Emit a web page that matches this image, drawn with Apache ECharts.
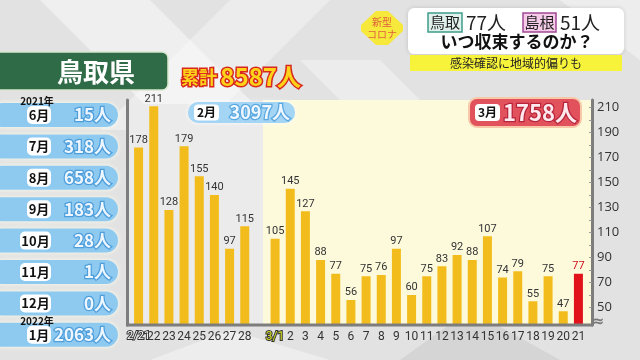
<!DOCTYPE html>
<html><head><meta charset="utf-8">
<script src="https://cdn.jsdelivr.net/npm/echarts@6/dist/echarts.min.js"></script>
<style>html,body{margin:0;padding:0;background:#e4e4e4}#c{width:640px;height:360px}</style>
</head><body><div id="c"></div>
<script>
// ---- data ----
const categories = ['2/21','22','23','24','25','26','27','28','',
  '3/1','2','3','4','5','6','7','8','9','10','11','12','13','14','15','16','17','18','19','20','21'];
const values = [178,211,128,179,155,140,97,115,null,
  105,145,127,88,77,56,75,76,97,60,75,83,92,88,107,74,79,55,75,47,77];
const yTickLabels = [50,70,90,110,130,150,170,190,210];
const yMinorTicks = [50,60,70,80,90,100,110,120,130,140,150,160,170,180,190,200,210];
const monthNames = ['6月','7月','8月','9月','10月','11月','12月','1月'];
const monthCounts = [15,318,658,183,28,1,0,2063];
const febTotal = 3097;
const marTotal = 1758;
const cumulative = 8587;
const todayTottori = 77;
const todayShimane = 51;

const JP = '"Noto Sans CJK JP", "Noto Sans", sans-serif';
const NARROW = '"Liberation Sans Narrow", "Roboto", sans-serif';

const chart = echarts.init(document.getElementById('c'), null, {renderer: 'canvas'});

const g = [];
// background
g.push({type:'rect', z:-10, shape:{x:0,y:0,width:640,height:360}, style:{fill:'#e2e2e2'}});
g.push({type:'polygon', z:-9, shape:{points:[[40,0],[150,0],[300,150],[190,150]]}, style:{fill:'rgba(255,255,255,0.45)'}});
g.push({type:'polygon', z:-9, shape:{points:[[230,0],[330,0],[200,130],[100,130]]}, style:{fill:'rgba(255,255,255,0.35)'}});
g.push({type:'polygon', z:-9, shape:{points:[[300,60],[380,60],[470,150],[390,150]]}, style:{fill:'rgba(255,255,255,0.35)'}});
g.push({type:'polygon', z:-9, shape:{points:[[560,0],[640,0],[640,60]]}, style:{fill:'rgba(255,255,255,0.4)'}});
g.push({type:'polygon', z:-9, shape:{points:[[150,360],[230,330],[330,360]]}, style:{fill:'rgba(255,255,255,0.4)'}});
g.push({type:'polygon', z:-9, shape:{points:[[400,360],[470,310],[560,360]]}, style:{fill:'rgba(200,200,200,0.5)'}});

// chart panels
g.push({type:'rect', z:-8, shape:{x:127,y:104,width:136,height:221}, style:{fill:'#ebebeb'}});
g.push({type:'rect', z:-8, shape:{x:263,y:100,width:329,height:225}, style:{fill:'#fdfadc'}});
// baseline
g.push({type:'line', z:5, shape:{x1:126,y1:325,x2:593,y2:325}, style:{stroke:'#7d7d7d', lineWidth:3}});
g.push({type:'text', z:6, style:{x:598, y:322, text:'≈', fill:'#777', font:'bold 15px "DejaVu Sans"', textAlign:'center', textVerticalAlign:'middle'}});

// green header
g.push({type:'rect', z:1, shape:{x:-10,y:52,width:178,height:38,r:6}, style:{fill:'#2f6b47', stroke:'#d6e6cc', lineWidth:1.5}});
g.push({type:'text', z:2, style:{x:96, y:72, text:'鳥取県', fill:'#fff', font:'bold 26px ' + JP, textAlign:'center', textVerticalAlign:'middle'}});

// cumulative
g.push({type:'text', z:2, style:{x:181, y:77, text:'{a|累計} {b|' + cumulative + '人}', textVerticalAlign:'middle',
  rich:{a:{fontSize:18, fontWeight:'bold', fontFamily:JP, fill:'#ffd21a', stroke:'#d8281e', lineWidth:3},
        b:{fontSize:24, fontWeight:'bold', fontFamily:JP, fill:'#ffd21a', stroke:'#d8281e', lineWidth:3}}}});

// month rows
g.push({type:'text', z:3, style:{x:37, y:101, text:'2021年', fill:'#111', font:'bold 10px ' + JP, textAlign:'center', textVerticalAlign:'middle'}});
monthNames.forEach((m, i) => {
  const y = 115 + i * 31.4;
  g.push({type:'rect', z:1, shape:{x:-10, y:y-12, width:128, height:24, r:12}, style:{fill:'#8ecaf0', shadowBlur:5, shadowColor:'rgba(255,255,240,0.9)'}});
  const w = m.length > 2 ? 31 : 24;
  g.push({type:'rect', z:2, shape:{x:51-w, y:y-9, width:w, height:18, r:5}, style:{fill:'#fff'}});
  g.push({type:'text', z:3, style:{x:51-w/2, y:y, text:m, fill:'#111', font:'bold 13px ' + JP, textAlign:'center', textVerticalAlign:'middle'}});
  g.push({type:'text', z:3, style:{x:111, y:y, text:monthCounts[i] + '人', fill:'#eef7ff', stroke:'#4e9edb', lineWidth:2.5, font:'bold 17px ' + JP, textAlign:'right', textVerticalAlign:'middle'}});
});
g.push({type:'text', z:3, style:{x:37, y:321, text:'2022年', fill:'#111', font:'bold 10px ' + JP, textAlign:'center', textVerticalAlign:'middle'}});

// Feb total box
g.push({type:'rect', z:2, shape:{x:188,y:102,width:107,height:21,r:10}, style:{fill:'#a5d5f4', shadowBlur:4, shadowColor:'rgba(255,255,255,0.9)'}});
g.push({type:'rect', z:3, shape:{x:194,y:104.5,width:25,height:16,r:4}, style:{fill:'#fff'}});
g.push({type:'text', z:4, style:{x:206.5, y:112.5, text:'2月', fill:'#111', font:'bold 12px ' + JP, textAlign:'center', textVerticalAlign:'middle'}});
g.push({type:'text', z:4, style:{x:290, y:112.5, text:febTotal + '人', fill:'#eef7ff', stroke:'#5aa8e0', lineWidth:2.5, font:'bold 18px ' + JP, textAlign:'right', textVerticalAlign:'middle'}});

// Mar total box
g.push({type:'rect', z:2, shape:{x:469,y:98,width:112,height:29,r:8}, style:{fill:'#e1525c', stroke:'#f7c9a8', lineWidth:2}});
g.push({type:'rect', z:3, shape:{x:475,y:104,width:25,height:17,r:4}, style:{fill:'#fff'}});
g.push({type:'text', z:4, style:{x:487.5, y:112.5, text:'3月', fill:'#111', font:'bold 12px ' + JP, textAlign:'center', textVerticalAlign:'middle'}});
g.push({type:'text', z:4, style:{x:577, y:112.5, text:marTotal + '人', fill:'#fde9ee', stroke:'#b8243a', lineWidth:2.5, font:'bold 22px ' + JP, textAlign:'right', textVerticalAlign:'middle'}});

// top right title
g.push({type:'polygon', z:2, shape:{points:[[376,11],[388,11],[403,25],[403,31],[388,45],[376,45],[361,31],[361,25]]}, style:{fill:'#f6e93c'}});
g.push({type:'text', z:3, style:{x:382, y:22, text:'新型', fill:'#e0603e', font:'10px ' + JP, textAlign:'center', textVerticalAlign:'middle'}});
g.push({type:'text', z:3, style:{x:382, y:34, text:'コロナ', fill:'#e0603e', font:'10px ' + JP, textAlign:'center', textVerticalAlign:'middle'}});
g.push({type:'rect', z:2, shape:{x:408,y:8,width:216,height:46,r:6}, style:{fill:'#fff', shadowBlur:4, shadowColor:'rgba(0,0,0,0.15)'}});
g.push({type:'rect', z:2, shape:{x:410,y:55,width:212,height:16}, style:{fill:'#f7f23a'}});
g.push({type:'rect', z:3, shape:{x:428,y:13,width:34,height:19}, style:{fill:'#dff1ea', stroke:'#3f9d8a', lineWidth:1.5}});
g.push({type:'text', z:4, style:{x:445, y:22.5, text:'鳥取', fill:'#222', font:'15px ' + JP, textAlign:'center', textVerticalAlign:'middle'}});
g.push({type:'text', z:4, style:{x:466, y:22.5, text:todayTottori + '人', fill:'#222', font:'19px ' + JP, textAlign:'left', textVerticalAlign:'middle'}});
g.push({type:'rect', z:3, shape:{x:523,y:13,width:33,height:19}, style:{fill:'#f6cbe9', stroke:'#a04a94', lineWidth:1.5}});
g.push({type:'text', z:4, style:{x:539.5, y:22.5, text:'島根', fill:'#222', font:'15px ' + JP, textAlign:'center', textVerticalAlign:'middle'}});
g.push({type:'text', z:4, style:{x:560, y:22.5, text:todayShimane + '人', fill:'#222', font:'19px ' + JP, textAlign:'left', textVerticalAlign:'middle'}});
g.push({type:'text', z:4, style:{x:517, y:42, text:'いつ収束するのか？', fill:'#111', font:'bold 17px ' + JP, textAlign:'center', textVerticalAlign:'middle'}});
g.push({type:'text', z:4, style:{x:516, y:63, text:'感染確認に地域的偏りも', fill:'#222', font:'12px ' + JP, textAlign:'center', textVerticalAlign:'middle'}});

const lastIdx = values.length - 1;
const seriesData = values.map((v, i) => i === lastIdx
  ? {value: v, itemStyle: {color: '#e2121b'}, label: {color: '#d01020'}}
  : v);

chart.setOption({
  animation: false,
  backgroundColor: 'transparent',
  graphic: g,
  grid: {left: 131, right: 54, top: 100, bottom: 35},
  xAxis: {
    type: 'category', data: categories,
    axisLine: {show: false}, axisTick: {show: false},
    axisLabel: {
      interval: 0, margin: 6, fontSize: 12, color: '#333', fontFamily: NARROW,
      formatter: v => v === '2/21' ? '{a|2/21}' : v === '3/1' ? '{b|3/1}' : v,
      rich: {
        a: {fontSize: 11, fontFamily: NARROW, color: '#fff', textBorderColor: '#333', textBorderWidth: 2},
        b: {fontSize: 12, fontFamily: NARROW, color: '#d6e021', textBorderColor: '#333', textBorderWidth: 2}
      }
    }
  },
  yAxis: [{
    type: 'value', position: 'right', offset: 6, min: 36, max: 216,
    axisLine: {show: true, lineStyle: {color: '#7d7d7d', width: 3}},
    axisTick: {show: true, inside: true, length: 3, customValues: yMinorTicks, lineStyle: {color: '#999', width: 1}},
    axisLabel: {customValues: yTickLabels, margin: 5, fontSize: 13, color: '#333', fontFamily: '"Open Sans", sans-serif'},
    splitLine: {show: false}
  }, {
    type: 'value', position: 'left', offset: 4, min: 36, max: 216,
    axisLine: {show: true, lineStyle: {color: '#7d7d7d', width: 3}},
    axisTick: {show: false}, axisLabel: {show: false}, splitLine: {show: false}
  }],
  series: [{
    type: 'bar', data: seriesData, barWidth: 9,
    itemStyle: {color: '#f2bd1c'},
    label: {show: true, position: 'top', distance: 2, fontSize: 11, color: '#333', fontFamily: NARROW}
  }]
});
</script>
</body></html>
